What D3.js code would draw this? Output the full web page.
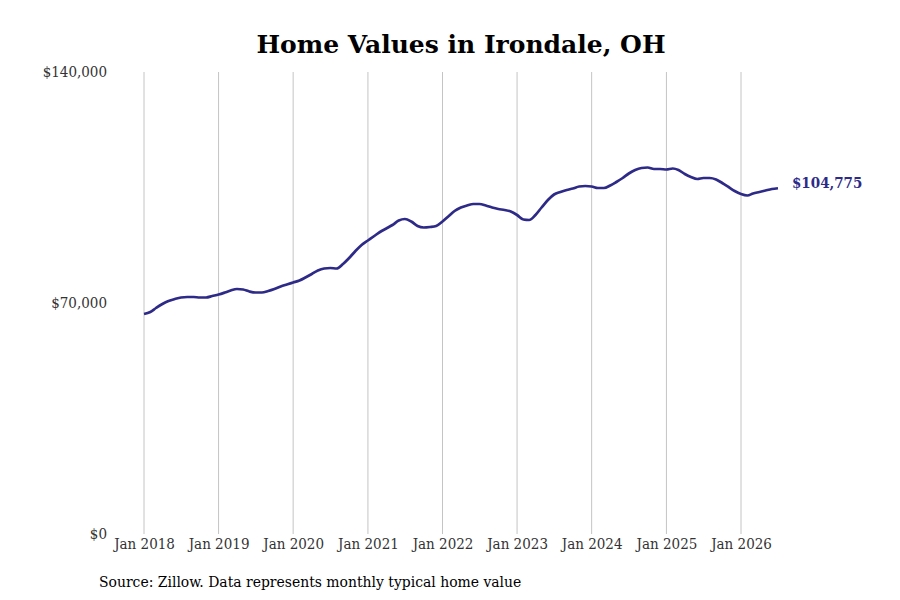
<!DOCTYPE html>
<html>
<head>
<meta charset="utf-8">
<script src="https://cdn.jsdelivr.net/npm/d3@7"></script>
<style>
  body { margin: 0; background: #fff; }
  text { font-family: "DejaVu Serif Condensed", "DejaVu Serif", serif; font-stretch: condensed; }
  text.title { font-family: "DejaVu Serif", serif; font-stretch: normal; }
</style>
</head>
<body>
<script>
// chart data: monthly typical home value, Jan 2018 - Jul 2026
var startMonth = "2018-01";
var values = [
  66667, 67273, 68485, 69697, 70606, 71212, 71667, 71818, 71818, 71667, 71667, 72121,
  72576, 73182, 73788, 74242, 74091, 73485, 73182, 73182, 73636, 74242, 75000, 75606,
  76212, 76818, 77727, 78788, 79848, 80455, 80606, 80455, 81818, 83636, 85758, 87576,
  88939, 90303, 91515, 92576, 93636, 95000, 95455, 94697, 93333, 92879, 93030, 93333,
  94697, 96364, 97879, 98939, 99545, 100000, 100000, 99545, 98939, 98485, 98182, 97727,
  96667, 95303, 95152, 96667, 98939, 101212, 102879, 103636, 104242, 104697, 105303, 105455,
  105303, 104848, 104848, 105606, 106667, 107879, 109242, 110303, 110909, 111061, 110606, 110606,
  110455, 110758, 110303, 109091, 108182, 107576, 107879, 107879, 107424, 106364, 105152, 103939,
  103030, 102576, 103182, 103636, 104091, 104545, 104775
];
var yTicks = [0, 70000, 140000];
var xTickYears = [2018, 2019, 2020, 2021, 2022, 2023, 2024, 2025, 2026];
var title = "Home Values in Irondale, OH";
var source = "Source: Zillow. Data represents monthly typical home value";

var w = 900, h = 600;
var lineColor = "#2e2a87";

var parseMonth = d3.timeParse("%Y-%m");
var t0 = parseMonth(startMonth);
var data = values.map(function(v, i) {
    return { date: d3.timeMonth.offset(t0, i), value: v };
});

var svg = d3.select("body").append("svg")
    .attr("width", w)
    .attr("height", h);

var x = d3.scaleTime()
    .domain([new Date(2018, 0, 1), new Date(2026, 0, 1)])
    .range([144, 741]);

var y = d3.scaleLinear()
    .domain([0, 140000])
    .range([534, 72]);

// vertical gridlines at each January
var xTicks = xTickYears.map(function(yr) { return new Date(yr, 0, 1); });
svg.append("g")
    .selectAll("line")
    .data(xTicks)
    .join("line")
    .attr("x1", function(d) { return x(d); })
    .attr("x2", function(d) { return x(d); })
    .attr("y1", y(140000))
    .attr("y2", y(0))
    .attr("stroke", "#c4c4c4")
    .attr("stroke-width", 1);

// x axis labels
var xAxis = d3.axisBottom(x)
    .tickValues(xTicks)
    .tickFormat(d3.timeFormat("Jan %Y"))
    .tickSize(0)
    .tickPadding(4);
var gx = svg.append("g")
    .attr("transform", "translate(0," + y(0) + ")")
    .call(xAxis);
gx.select(".domain").remove();
gx.selectAll("text")
    .attr("font-family", null)
    .attr("font-size", 15)
    .attr("fill", "#333");

// y axis labels
var yAxis = d3.axisLeft(y)
    .tickValues(yTicks)
    .tickFormat(function(d) { return "$" + d3.format(",")(d); })
    .tickSize(0)
    .tickPadding(0);
var gy = svg.append("g")
    .attr("transform", "translate(107,0)")
    .call(yAxis);
gy.select(".domain").remove();
gy.selectAll("text")
    .attr("font-family", null)
    .attr("font-size", 15)
    .attr("fill", "#333");
gy.attr("font-family", null);
gx.attr("font-family", null);

// the line
var line = d3.line()
    .x(function(d) { return x(d.date); })
    .y(function(d) { return y(d.value); })
    .curve(d3.curveMonotoneX);

svg.append("path")
    .datum(data)
    .attr("d", line)
    .attr("fill", "none")
    .attr("stroke", lineColor)
    .attr("stroke-width", 2.7)
    .attr("stroke-linejoin", "round");

// end label
var last = data[data.length - 1];
svg.append("text")
    .attr("x", x(last.date) + 14)
    .attr("y", y(last.value) - 5)
    .attr("dy", "0.35em")
    .attr("font-size", 15)
    .attr("font-weight", "bold")
    .attr("fill", lineColor)
    .text("$" + d3.format(",")(last.value));

// title
svg.append("text")
    .attr("class", "title")
    .attr("x", 461)
    .attr("y", 53)
    .attr("text-anchor", "middle")
    .attr("font-size", 25)
    .attr("font-weight", "bold")
    .attr("fill", "#000")
    .text(title);

// source note
svg.append("text")
    .attr("x", 99)
    .attr("y", 587)
    .attr("font-size", 15.5)
    .attr("fill", "#000")
    .text(source);
</script>
</body>
</html>
